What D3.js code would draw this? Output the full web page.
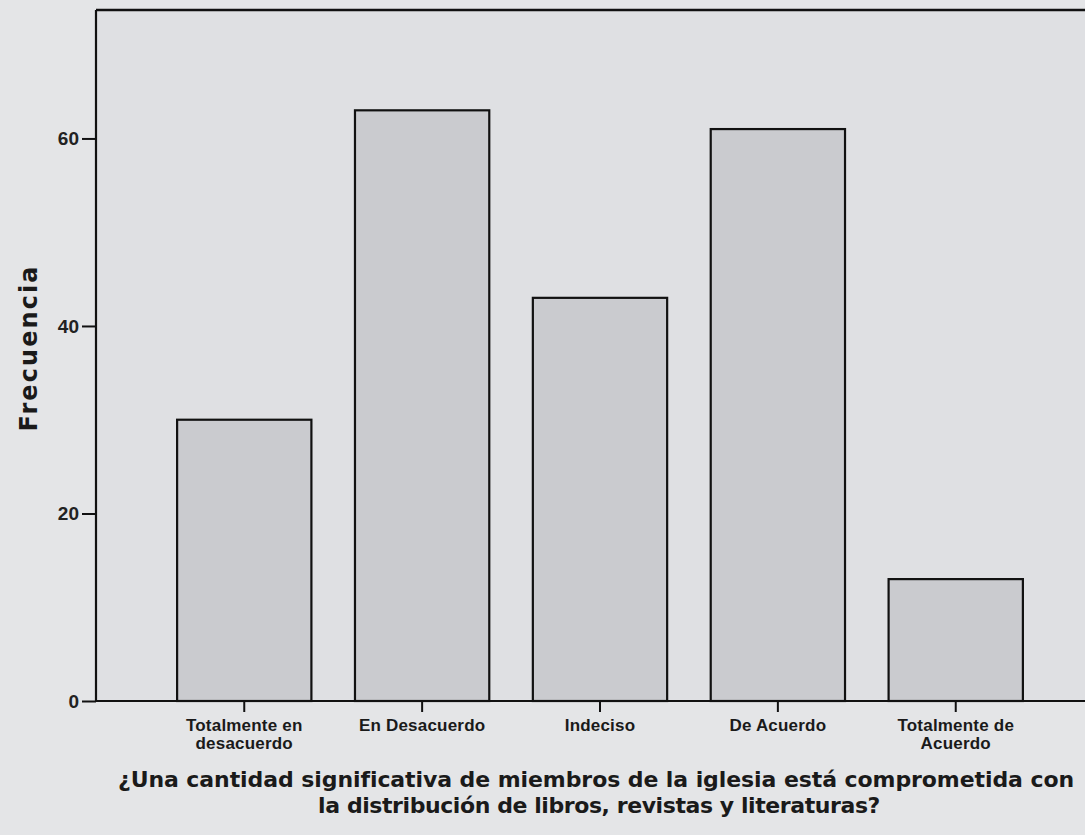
<!DOCTYPE html>
<html>
<head>
<meta charset="utf-8">
<script src="https://cdn.jsdelivr.net/npm/d3@7"></script>
<style>
  html, body { margin: 0; padding: 0; background: #e3e4e6; }
  svg { display: block; }
</style>
</head>
<body>
<script>
const categories = ["Totalmente en desacuerdo", "En Desacuerdo", "Indeciso", "De Acuerdo", "Totalmente de Acuerdo"];
const categoryLines = [["Totalmente en", "desacuerdo"], ["En Desacuerdo"], ["Indeciso"], ["De Acuerdo"], ["Totalmente de", "Acuerdo"]];
const frequencies = [30, 63, 43, 61, 13];
const yTicks = [0, 20, 40, 60];
const yLabel = "Frecuencia";
const xTitleLines = ["¿Una cantidad significativa de miembros de la iglesia está comprometida con", "la distribución de libros, revistas y literaturas?"];

const W = 1085, H = 835;
const mLeft = 96, mRight = 1104, mTop = 10, mBottom = 701;

const svg = d3.select("body").append("svg").attr("width", W).attr("height", H);
svg.append("rect").attr("width", W).attr("height", H).attr("fill", "#e4e5e7");

// spread letters so a text element reaches a target width
function fitWidth(sel, target) {
  sel.each(function () {
    const n = this.getNumberOfChars();
    const w = this.getComputedTextLength();
    if (n > 1) d3.select(this).attr("letter-spacing", ((target - w) / (n - 1)).toFixed(2));
  });
}

const x = d3.scaleBand().domain(categories).range([mLeft, mRight]).paddingInner(0.245).paddingOuter(0.456);
const y = d3.scaleLinear().domain([0, 73.7]).range([mBottom, mTop]);

// plot area
svg.append("rect").attr("x", mLeft).attr("y", mTop).attr("width", mRight - mLeft).attr("height", mBottom - mTop)
  .attr("fill", "#dfe0e3");

// bars
svg.append("g").selectAll("rect").data(frequencies).join("rect")
  .attr("x", (d, i) => x(categories[i]))
  .attr("y", d => y(d))
  .attr("width", x.bandwidth())
  .attr("height", d => y(0) - y(d))
  .attr("fill", "#cacbcf")
  .attr("stroke", "#111")
  .attr("stroke-width", 2.2);

// top frame line
svg.append("line").attr("x1", mLeft).attr("x2", mRight).attr("y1", mTop).attr("y2", mTop)
  .attr("stroke", "#111").attr("stroke-width", 2.5);

// y axis
const yAxis = svg.append("g").attr("transform", `translate(${mLeft},0)`)
  .call(d3.axisLeft(y).tickValues(yTicks).tickSize(14).tickPadding(3).tickFormat(d3.format("d")));
yAxis.select(".domain").attr("d", `M0,${mTop}V${mBottom}`).attr("stroke", "#111").attr("stroke-width", 2.2);
yAxis.selectAll(".tick line").attr("stroke", "#111").attr("stroke-width", 2);
yAxis.selectAll(".tick text")
  .style("font-family", "'Liberation Sans', Arial, sans-serif")
  .style("font-size", "19px").style("font-weight", "bold").attr("fill", "#222");

// x axis
const xAxis = svg.append("g").attr("transform", `translate(0,${mBottom})`)
  .call(d3.axisBottom(x).tickSize(11).tickFormat(""));
xAxis.select(".domain").attr("d", `M${mLeft},0H${mRight}`).attr("stroke", "#111").attr("stroke-width", 2.2);
xAxis.selectAll(".tick line").attr("stroke", "#111").attr("stroke-width", 2);

// x tick labels (multi-line)
const labelG = svg.append("g");
categories.forEach((c, i) => {
  const cx = x(c) + x.bandwidth() / 2;
  categoryLines[i].forEach((ln, j) => {
    labelG.append("text")
      .attr("x", cx)
      .attr("y", mBottom + 30 + j * 18)
      .attr("text-anchor", "middle")
      .style("font-family", "'Liberation Sans', Arial, sans-serif")
      .style("font-size", "17px")
      .style("font-weight", "bold")
      .attr("fill", "#1a1a1a")
      .attr("letter-spacing", 0.2)
      .text(ln);
  });
});

// y label
const yl = svg.append("text")
  .attr("transform", `translate(37,348) rotate(-90)`)
  .attr("text-anchor", "middle")
  .style("font-family", "'DejaVu Sans', sans-serif")
  .style("font-size", "24px")
  .style("font-weight", "bold")
  .attr("fill", "#1a1a1a")
  .text(yLabel);
fitWidth(yl, 165);

// x title
const titleWidths = [955, 562];
const titleCenters = [596, 599];
xTitleLines.forEach((ln, j) => {
  const t = svg.append("text")
    .attr("x", titleCenters[j]).attr("y", 787 + j * 26)
    .attr("text-anchor", "middle")
    .style("font-family", "'DejaVu Sans', sans-serif")
    .style("font-size", "22px")
    .style("font-weight", "bold")
    .attr("fill", "#1a1a1a")
    .text(ln);
  fitWidth(t, titleWidths[j]);
});
</script>
</body>
</html>
